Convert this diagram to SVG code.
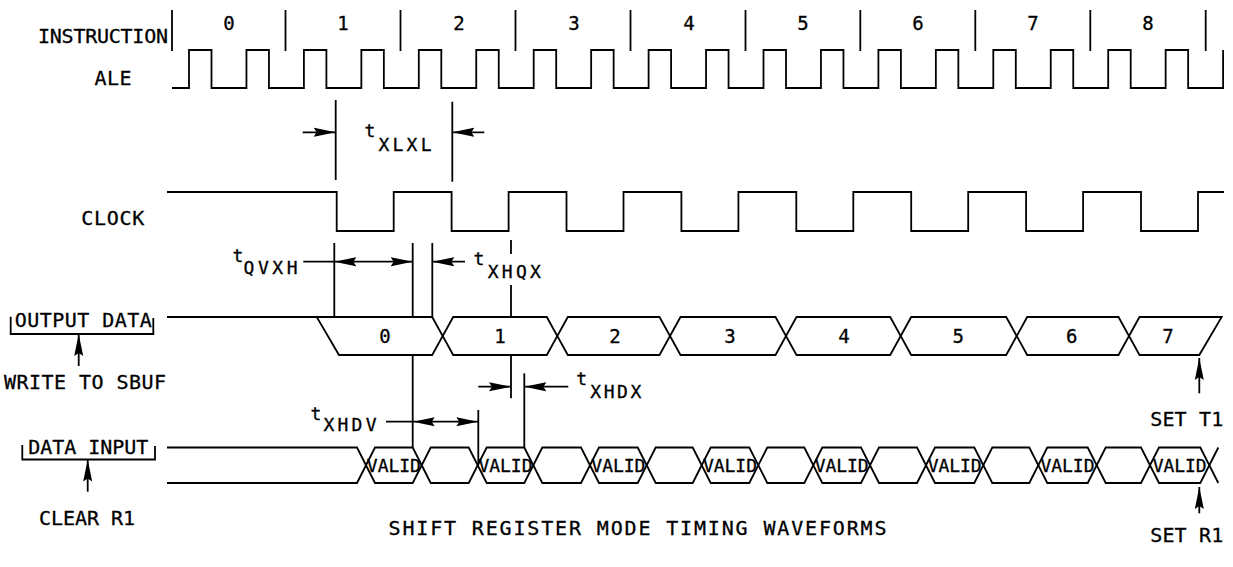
<svg xmlns="http://www.w3.org/2000/svg" width="1233" height="567" viewBox="0 0 1233 567">
<style>
.w{fill:none;stroke:#000;stroke-width:1.8}
.b{fill:#fff;stroke:#000;stroke-width:1.8}
.a{fill:none;stroke:#000;stroke-width:1.8;marker-end:url(#ah)}
.d{fill:none;stroke:#000;stroke-width:1.8;marker-start:url(#ah);marker-end:url(#ah)}
text{font-family:"DejaVu Sans Mono","Liberation Mono",monospace;fill:#000;stroke:#000;stroke-width:0.3}
.l{font-size:20px;text-anchor:middle}
.n{font-size:19px;text-anchor:middle}
.v{font-size:18px;text-anchor:middle}
.s{font-size:18px;text-anchor:middle}
</style>
<defs>
<marker id="ah" markerUnits="userSpaceOnUse" markerWidth="22" markerHeight="10" refX="22" refY="5" orient="auto-start-reverse" viewBox="0 0 22 10">
<path d="M0,0.5 L22,5 L0,9.5 L3,5 z" fill="#000"/>
</marker>
</defs>
<rect width="1233" height="567" fill="#fff"/>

<g id="instruction">
<text class="l" x="103" y="43" textLength="130" lengthAdjust="spacing">INSTRUCTION</text>
<path class="w" d="M172,10 V51 M285.5,10 V51 M400.5,10 V51 M515.5,10 V51 M630.5,10 V51 M745.5,10 V51 M860.3,10 V51 M975.3,10 V51 M1090.3,10 V51 M1205.7,10 V51"/>
<text class="n" x="229" y="30">0</text>
<text class="n" x="343" y="30">1</text>
<text class="n" x="459" y="30">2</text>
<text class="n" x="574" y="30">3</text>
<text class="n" x="689" y="30">4</text>
<text class="n" x="803" y="30">5</text>
<text class="n" x="918" y="30">6</text>
<text class="n" x="1033" y="30">7</text>
<text class="n" x="1148" y="30">8</text>
</g>

<g id="ale">
<text class="l" x="113" y="85" textLength="37" lengthAdjust="spacing">ALE</text>
<path class="w" d="M172,88 H189 V50 H211.5 V88 H246.45 V50 H268.95 V88 H303.9 V50 H326.4 V88 H361.35 V50 H383.85 V88 H418.8 V50 H441.3 V88 H476.25 V50 H498.75 V88 H533.7 V50 H556.2 V88 H591.15 V50 H613.65 V88 H648.6 V50 H671.1 V88 H706.05 V50 H728.55 V88 H763.5 V50 H786 V88 H820.95 V50 H843.45 V88 H878.4 V50 H900.9 V88 H935.85 V50 H958.35 V88 H993.3 V50 H1015.8 V88 H1050.75 V50 H1073.25 V88 H1108.2 V50 H1130.7 V88 H1165.65 V50 H1188.15 V88 H1223.1 V50"/>
</g>

<g id="clock">
<text class="l" x="112.7" y="225" textLength="63" lengthAdjust="spacing">CLOCK</text>
<path class="w" d="M167,192 H336.7 V231 H393.7 V192 H451.6 V231 H508.6 V192 H566.5 V231 H623.5 V192 H681.4 V231 H738.4 V192 H796.3 V231 H853.3 V192 H911.2 V231 H968.2 V192 H1026.1 V231 H1083.1 V192 H1141 V231 H1198 V192 H1224"/>
</g>

<g id="output-data">
<text class="l" x="83.3" y="327" textLength="137" lengthAdjust="spacing">OUTPUT DATA</text>
<path class="w" d="M10.7,316.7 V334 H153.3 V318"/>
<text class="l" x="85" y="389" textLength="162" lengthAdjust="spacing">WRITE TO SBUF</text>
<path class="w" d="M167,317 H316.7"/>
<polygon class="b" points="316.7,317 432.2,317 442.7,336 432.2,355 339,355"/>
<polygon class="b" points="442.7,336 453.2,317 546.8,317 557.3,336 546.8,355 453.2,355"/>
<polygon class="b" points="557.3,336 567.8,317 659.5,317 670,336 659.5,355 567.8,355"/>
<polygon class="b" points="670,336 680.5,317 775.5,317 786,336 775.5,355 680.5,355"/>
<polygon class="b" points="786,336 796.5,317 890.2,317 900.7,336 890.2,355 796.5,355"/>
<polygon class="b" points="900.7,336 911.2,317 1006.2,317 1016.7,336 1006.2,355 911.2,355"/>
<polygon class="b" points="1016.7,336 1027.2,317 1118.5,317 1129,336 1118.5,355 1027.2,355"/>
<polygon class="b" points="1129,336 1139.5,317 1221.7,317 1199.3,355 1139.5,355"/>
<text class="n" x="385" y="343">0</text>
<text class="n" x="500" y="343">1</text>
<text class="n" x="615" y="343">2</text>
<text class="n" x="730" y="343">3</text>
<text class="n" x="844" y="343">4</text>
<text class="n" x="958.3" y="343">5</text>
<text class="n" x="1071.7" y="343">6</text>
<text class="n" x="1168" y="343">7</text>
<text class="l" x="1186.7" y="426" textLength="73" lengthAdjust="spacing">SET T1</text>
</g>

<g id="data-input">
<text class="l" x="88.3" y="454" textLength="120" lengthAdjust="spacing">DATA INPUT</text>
<path class="w" d="M22.3,445 V459.5 H155 V446"/>
<text class="l" x="87" y="524.5" textLength="96" lengthAdjust="spacing">CLEAR R1</text>
<path class="w" d="M167,447.5 H357 L375,483 H412.7 L430.7,447.5 H468.7 L486.7,483 H524.3 L542.3,447.5 H581 L599,483 H637.7 L655.7,447.5 H692.7 L710.7,483 H749.3 L767.3,447.5 H804.3 L822.3,483 H861 L879,447.5 H917 L935,483 H974.3 L992.3,447.5 H1029.3 L1047.3,483 H1087.7 L1105.7,447.5 H1141 L1159,483 H1200.3 L1218.3,447.5"/>
<path class="w" d="M167,483 H357 L375,447.5 H412.7 L430.7,483 H468.7 L486.7,447.5 H524.3 L542.3,483 H581 L599,447.5 H637.7 L655.7,483 H692.7 L710.7,447.5 H749.3 L767.3,483 H804.3 L822.3,447.5 H861 L879,483 H917 L935,447.5 H974.3 L992.3,483 H1029.3 L1047.3,447.5 H1087.7 L1105.7,483 H1141 L1159,447.5 H1200.3 L1218.3,483"/>
<text class="v" x="393.85" y="471.5" textLength="54" lengthAdjust="spacing">VALID</text>
<text class="v" x="505.5" y="471.5" textLength="54" lengthAdjust="spacing">VALID</text>
<text class="v" x="618.35" y="471.5" textLength="54" lengthAdjust="spacing">VALID</text>
<text class="v" x="730" y="471.5" textLength="54" lengthAdjust="spacing">VALID</text>
<text class="v" x="841.65" y="471.5" textLength="54" lengthAdjust="spacing">VALID</text>
<text class="v" x="954.65" y="471.5" textLength="54" lengthAdjust="spacing">VALID</text>
<text class="v" x="1067.5" y="471.5" textLength="54" lengthAdjust="spacing">VALID</text>
<text class="v" x="1179.65" y="471.5" textLength="54" lengthAdjust="spacing">VALID</text>
<text class="l" x="1186.7" y="541.7" textLength="73" lengthAdjust="spacing">SET R1</text>
</g>

<g id="timing-labels">
<text class="s" x="370" y="136.7">t</text>
<text class="s" x="405" y="150.5" textLength="53" lengthAdjust="spacing">XLXL</text>
<text class="s" x="238" y="261.7">t</text>
<text class="s" x="270.5" y="273.8" textLength="54" lengthAdjust="spacing">QVXH</text>
<text class="s" x="479" y="265">t</text>
<text class="s" x="514.3" y="277.8" textLength="53" lengthAdjust="spacing">XHQX</text>
<text class="s" x="581.7" y="385">t</text>
<text class="s" x="615.8" y="397.8" textLength="51" lengthAdjust="spacing">XHDX</text>
<text class="s" x="316" y="420">t</text>
<text class="s" x="350" y="431.2" textLength="53" lengthAdjust="spacing">XHDV</text>
</g>

<g id="connectors">
<path class="w" d="M335.7,100 V180 M452.3,101.7 V181.7"/>
<path class="a" d="M302.7,132.3 H335.7"/>
<path class="a" d="M484.3,132.3 H452.3"/>
<path class="w" d="M334.3,243 V317 M412.7,243 V317 M412.7,355 V447.5 M432.3,243 V317 M303.3,261.7 H334.3"/>
<path class="d" d="M334.3,261.7 H412.7"/>
<path class="a" d="M465,261.7 H432.3"/>
<path class="w" d="M511,240 V254 M511,285 V317 M511,355 V398.3"/>
<path class="a" d="M478.3,386.7 H511"/>
<path class="w" d="M524.3,373.3 V447.5"/>
<path class="a" d="M568.3,386.7 H524.3"/>
<path class="w" d="M386,421.7 H412.7 M478.3,410 V465"/>
<path class="d" d="M412.7,421.7 H478.3"/>
<path class="a" d="M78.7,366 V334"/>
<path class="a" d="M87.7,491.7 V459.5"/>
<path class="a" d="M1199.3,393.3 V358"/>
<path class="a" d="M1199.3,513.3 V487"/>
</g>

<text class="l" x="637.5" y="535" textLength="498" lengthAdjust="spacing">SHIFT REGISTER MODE TIMING WAVEFORMS</text>
</svg>
